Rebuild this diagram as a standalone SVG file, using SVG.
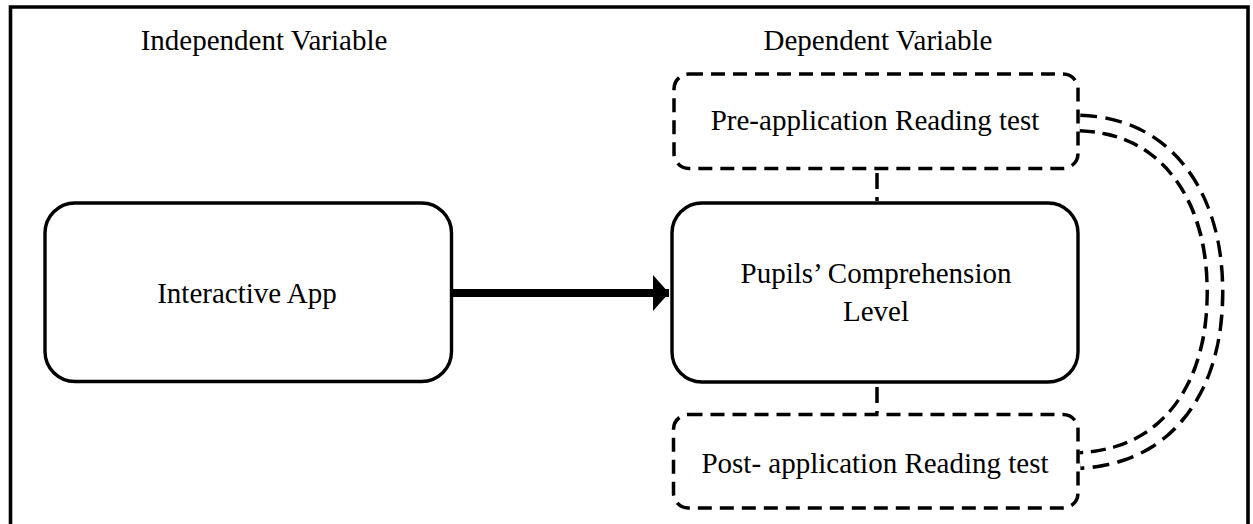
<svg xmlns="http://www.w3.org/2000/svg" width="1253" height="524" viewBox="0 0 1253 524">
<style>
text{font-family:"Liberation Serif","Times New Roman",serif;font-size:29px;fill:#000;text-anchor:middle}
.solid{fill:#fff;stroke:#000;stroke-width:3.4}
.dash{fill:#fff;stroke:#000;stroke-width:3.5;stroke-dasharray:14 8}
</style>
<defs>
<marker id="ah" markerUnits="userSpaceOnUse" markerWidth="16" markerHeight="36" refX="16" refY="18" orient="auto">
<path d="M0,0 L16,18 L0,36 Z" fill="#000"/>
</marker>
</defs>
<rect width="1253" height="524" fill="#fff"/>
<path d="M10.5,530 L10.5,7 L1248,7 L1248,530" fill="none" stroke="#000" stroke-width="3.6"/>
<text x="264" y="50">Independent Variable</text>
<text x="878" y="50">Dependent Variable</text>
<g id="connectors">
<line x1="448" y1="293" x2="669" y2="293" stroke="#000" stroke-width="8" marker-end="url(#ah)"/>
<line x1="877" y1="170" x2="877" y2="201" stroke="#000" stroke-width="3.5" stroke-dasharray="16 8" stroke-dashoffset="-3"/>
<line x1="877" y1="384" x2="877" y2="413" stroke="#000" stroke-width="3.5" stroke-dasharray="16 8" stroke-dashoffset="-3"/>
<path d="M1080,123 C1170,126 1215,200 1215,292 C1215,385 1170,456 1080,460.5" fill="none" stroke="#000" stroke-width="19" stroke-dasharray="16 8"/>
<path d="M1080,123 C1170,126 1215,200 1215,292 C1215,385 1170,456 1080,460.5" fill="none" stroke="#fff" stroke-width="12"/>
</g>
<g id="interactive-app">
<rect class="solid" x="45" y="203" width="406.5" height="178.5" rx="30"/>
<text x="247" y="303">Interactive App</text>
</g>
<g id="pre-test">
<rect class="dash" x="674" y="74" width="404" height="94.5" rx="15"/>
<text x="875" y="130">Pre-application Reading test</text>
</g>
<g id="comprehension">
<rect class="solid" x="672" y="203" width="406" height="179" rx="30" stroke-width="3.8"/>
<text x="876" y="283">Pupils’ Comprehension</text>
<text x="876" y="321">Level</text>
</g>
<g id="post-test">
<rect class="dash" x="673.5" y="414.5" width="404.5" height="93.5" rx="15"/>
<text x="875" y="473">Post- application Reading test</text>
</g>
</svg>
